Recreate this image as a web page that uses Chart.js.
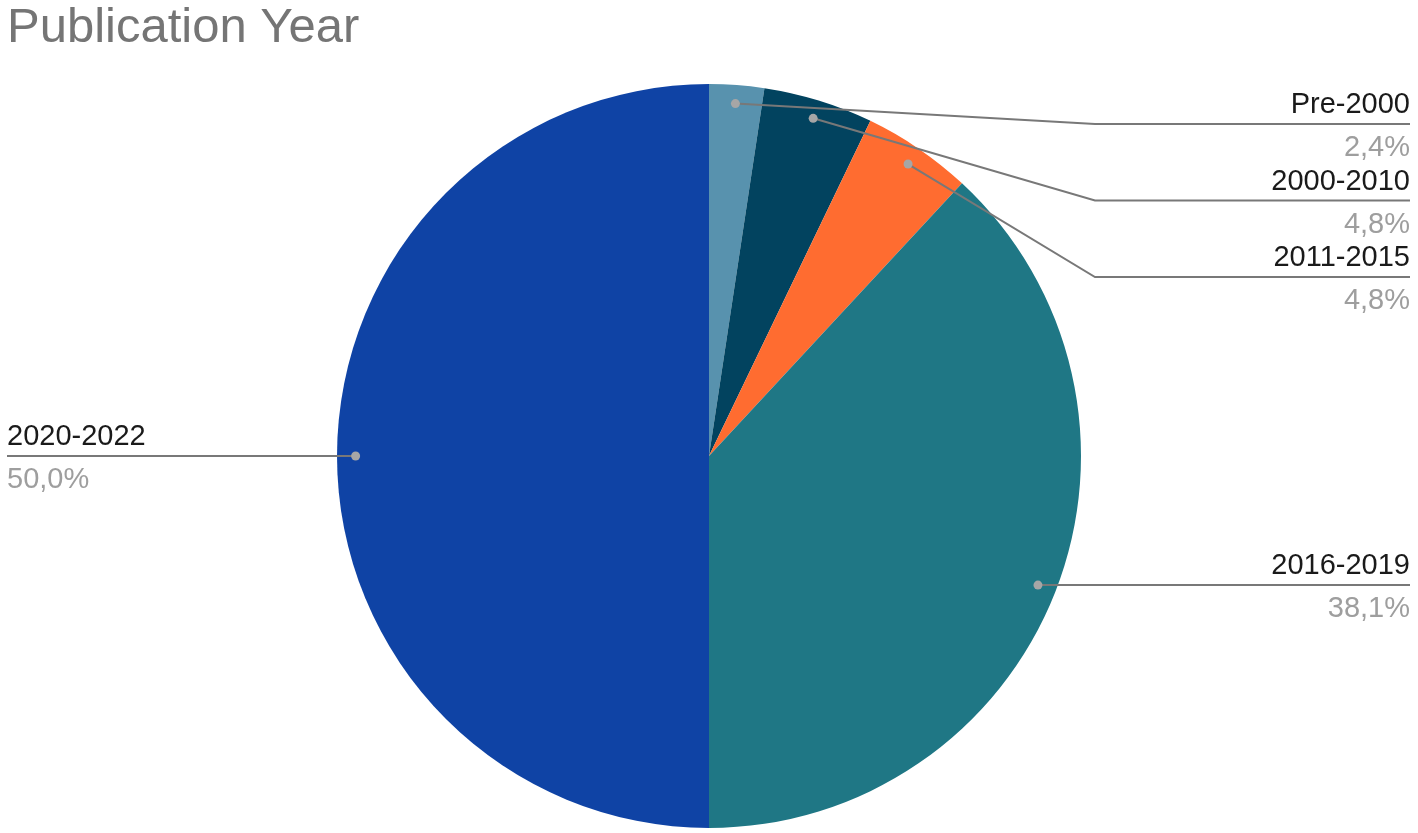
<!DOCTYPE html>
<html lang="en">
<head>
  <meta charset="UTF-8" />
  <title>Publication Year</title>
  <script src="https://cdn.jsdelivr.net/npm/chart.js"></script>
  <style>
    body {
      margin: 0;
      background: #fff;
      font-family: "Liberation Sans", Arial, sans-serif;
    }
    .wrap {
      width: 1418px;
      height: 833px;
      position: relative;
    }
  </style>
</head>
<body>
  <div class="wrap"><canvas id="pieChart"></canvas></div>

  <script>
    const categories = ["Pre-2000", "2000-2010", "2011-2015", "2016-2019", "2020-2022"];
    const counts = [1, 2, 2, 16, 21];
    const sliceColors = ["#5892ae", "#02435f", "#ff6c30", "#1f7785", "#0f43a5"];

    const total = counts.reduce((a, b) => a + b, 0);
    const pctText = v => (v / total * 100).toFixed(1).replace(".", ",") + "%";
    const FONT = "'Liberation Sans', Arial, sans-serif";

    // callout labels: dot inside slice, elbow line, name above / percent below
    const calloutPlugin = {
      id: "callouts",
      afterDatasetsDraw(chart) {
        const ctx = chart.ctx;
        const arcs = chart.getDatasetMeta(0).data;
        const area = chart.chartArea;
        const gap = 76.5;
        const items = arcs.map((arc, i) => {
          const a = (arc.startAngle + arc.endAngle) / 2;
          const r = arc.outerRadius * 0.95;
          return {
            i,
            cx: arc.x, R: arc.outerRadius,
            dx: arc.x + Math.cos(a) * r,
            dy: arc.y + Math.sin(a) * r,
            right: Math.cos(a) >= 0
          };
        });

        [true, false].forEach(side => {
          let prev = -Infinity;
          items.filter(it => it.right === side)
            .sort((p, q) => p.dy - q.dy)
            .forEach(it => {
              it.ly = Math.max(it.dy, prev + gap, area.top + 40);
              prev = it.ly;
            });
        });

        ctx.save();
        items.forEach(it => {
          const elbowX = it.right ? it.cx + it.R + 14 : it.cx - it.R - 14;
          const endX = it.right ? chart.width - 8 : 7;

          ctx.strokeStyle = "#787878";
          ctx.lineWidth = 2;
          ctx.beginPath();
          ctx.moveTo(it.dx, it.dy);
          if (Math.abs(it.ly - it.dy) > 0.5) ctx.lineTo(elbowX, it.ly);
          ctx.lineTo(endX, it.ly);
          ctx.stroke();

          ctx.fillStyle = "#a6a6a6";
          ctx.beginPath();
          ctx.arc(it.dx, it.dy, 4.5, 0, Math.PI * 2);
          ctx.fill();

          ctx.textAlign = it.right ? "right" : "left";
          ctx.font = "29px " + FONT;
          ctx.textBaseline = "alphabetic";
          ctx.fillStyle = "#1a1a1a";
          ctx.fillText(categories[it.i], endX, it.ly - 11);
          ctx.fillStyle = "#9e9e9e";
          ctx.fillText(pctText(counts[it.i]), endX, it.ly + 32);
        });
        ctx.restore();
      }
    };

    new Chart(document.getElementById("pieChart"), {
      type: "pie",
      data: {
        labels: categories,
        datasets: [{
          data: counts,
          backgroundColor: sliceColors,
          borderWidth: 0
        }]
      },
      options: {
        responsive: true,
        maintainAspectRatio: false,
        animation: false,
        layout: { padding: { top: 0, bottom: 5, left: 7, right: 7 } },
        plugins: {
          legend: { display: false },
          tooltip: { enabled: false },
          title: {
            display: true,
            text: "Publication Year",
            align: "start",
            color: "#757575",
            font: { family: FONT, size: 49, weight: "normal", lineHeight: 1.18 },
            padding: { top: 0, bottom: 26.2 }
          }
        }
      },
      plugins: [calloutPlugin]
    });
  </script>
</body>
</html>
